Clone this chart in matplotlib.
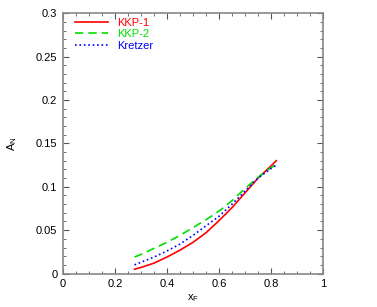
import numpy as np
import matplotlib
matplotlib.use('Agg')
from matplotlib import pyplot as plt
from matplotlib.ticker import MultipleLocator

plt.rcParams['font.family'] = ['Liberation Sans', 'DejaVu Sans']
plt.rcParams['font.size'] = 8

# x_F grid and A_N values
x_f = [0.275, 0.30, 0.35, 0.40, 0.45, 0.50, 0.55, 0.60, 0.65, 0.70, 0.75, 0.80, 0.82]
kkp1 = [0.005, 0.007, 0.012, 0.019, 0.027, 0.036, 0.047, 0.061, 0.076, 0.093, 0.110, 0.124, 0.130]
kkp2 = [0.019, 0.022, 0.029, 0.036, 0.044, 0.053, 0.062, 0.072, 0.084, 0.098, 0.111, 0.122, 0.126]
kretzer = [0.010, 0.013, 0.019, 0.026, 0.034, 0.044, 0.055, 0.066, 0.080, 0.095, 0.110, 0.121, 0.125]

fig = plt.figure(figsize=(3.77, 3.07), dpi=100)
ax = fig.add_axes([0.167, 0.109, 0.690, 0.848])

ax.plot(x_f, kkp1, '-', color='#ff0000', lw=1.2, label='KKP-1')
ax.plot(x_f, kkp2, '--', color='#00e000', lw=1.2, dashes=(5, 3), label='KKP-2')
ax.plot(x_f, kretzer, ':', color='#0000ff', lw=1.2, label='Kretzer')

ax.set_xlim(0, 1)
ax.set_ylim(0, 0.3)
ax.xaxis.set_minor_locator(MultipleLocator(0.05))
ax.yaxis.set_minor_locator(MultipleLocator(0.01))
ax.set_xticks([0, 0.2, 0.4, 0.6, 0.8, 1])
ax.set_xticklabels(['0', '0.2', '0.4', '0.6', '0.8', '1'])
ax.set_yticks([0, 0.05, 0.1, 0.15, 0.2, 0.25, 0.3])
ax.set_yticklabels(['0', '0.05', '0.1', '0.15', '0.2', '0.25', '0.3'])

ax.tick_params(which='both', direction='in', top=True, right=True, color='#555555')
ax.tick_params(which='major', length=4, width=0.8, labelsize=8, pad=4)
ax.tick_params(which='minor', length=2, width=0.6)
for s in ax.spines.values():
    s.set_color('#888888')
    s.set_linewidth(1.2)

ax.set_xlabel('x$_{\\mathregular{F}}$', fontsize=8, labelpad=2)
ax.set_ylabel('A$_{\\mathregular{N}}$', fontsize=8, labelpad=12)

leg = ax.legend(loc='upper left', bbox_to_anchor=(0.029, 1.0), frameon=False,
                handlelength=3.0, handletextpad=0.8, labelspacing=0.15,
                borderaxespad=0.0, fontsize=8, labelcolor='linecolor')

fig.savefig('out.png', dpi=100)
